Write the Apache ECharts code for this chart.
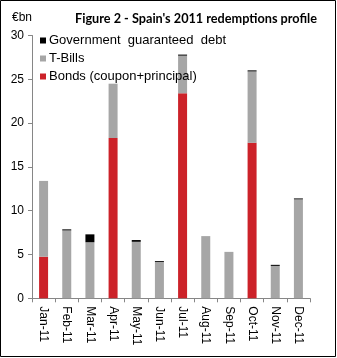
<!DOCTYPE html>
<html><head><meta charset="utf-8">
<script src="https://cdn.jsdelivr.net/npm/echarts@6/dist/echarts.min.js"></script>
<style>html,body{margin:0;padding:0;background:#fff}#c{width:337px;height:358px}</style>
</head><body><div id="c"></div>
<script>
const categories = ['Jan-11','Feb-11','Mar-11','Apr-11','May-11','Jun-11','Jul-11','Aug-11','Sep-11','Oct-11','Nov-11','Dec-11'];
const bonds = [4.75, 0, 0, 18.3, 0, 0, 23.4, 0, 0, 17.75, 0, 0];
const tbills = [8.65, 7.75, 6.4, 6.2, 6.45, 4.15, 4.3, 7.1, 5.3, 8.15, 3.7, 11.3];
const govGuaranteed = [0, 0.12, 0.9, 0, 0.2, 0.1, 0.12, 0, 0, 0.12, 0.12, 0.1];
const yTicks = [0, 5, 10, 15, 20, 25, 30];

const chart = echarts.init(document.getElementById('c'));
chart.setOption({
  animation: false,
  backgroundColor: '#fff',
  title: [
    {text: "Figure 2 - Spain's 2011 redemptions profile", left: 70, top: 7,
     textStyle: {fontFamily: 'Lato', fontWeight: 'bold', fontSize: 12.7, color: '#000'}},
    {text: '€bn', left: 7, top: 7,
     textStyle: {fontFamily: 'Liberation Sans', fontWeight: 'normal', fontSize: 12, color: '#000'}}
  ],
  graphic: [{type: 'rect', shape: {x: 0.5, y: 0.5, width: 335, height: 356},
    style: {fill: 'none', stroke: '#000', lineWidth: 1}, silent: true}],
  legend: {
    orient: 'vertical', left: 35, top: 29, itemWidth: 6, itemHeight: 6, itemGap: 5,
    icon: 'rect',
    data: ['Government  guaranteed  debt', 'T-Bills', 'Bonds (coupon+principal)'],
    textStyle: {fontFamily: 'Liberation Sans', fontSize: 13, color: '#000', padding: [0,0,0,-2]}
  },
  grid: {left: 32, right: 27, top: 35.5, bottom: 59.7},
  xAxis: {
    type: 'category', data: categories,
    axisLine: {lineStyle: {color: '#868686'}},
    axisTick: {show: true, alignWithLabel: false, length: 4, lineStyle: {color: '#868686'}},
    axisLabel: {rotate: -90, fontFamily: 'Liberation Sans', fontSize: 12, color: '#000', margin: 8}
  },
  yAxis: {
    type: 'value', min: 0, max: 30, interval: 5,
    splitLine: {show: false},
    axisLine: {show: true, lineStyle: {color: '#868686'}},
    axisTick: {show: true, length: 4, lineStyle: {color: '#868686'}},
    axisLabel: {fontFamily: 'Liberation Sans', fontSize: 12, color: '#000', margin: 8,
      formatter: v => yTicks.includes(v) ? String(v) : ''}
  },
  series: [
    {name: 'Bonds (coupon+principal)', type: 'bar', stack: 's', data: bonds, barWidth: 9,
     itemStyle: {color: '#CC2229'}},
    {name: 'T-Bills', type: 'bar', stack: 's', data: tbills, barWidth: 9,
     itemStyle: {color: '#A6A6A6'}},
    {name: 'Government  guaranteed  debt', type: 'bar', stack: 's', data: govGuaranteed, barWidth: 9,
     itemStyle: {color: '#000'}}
  ]
});
</script></body></html>
